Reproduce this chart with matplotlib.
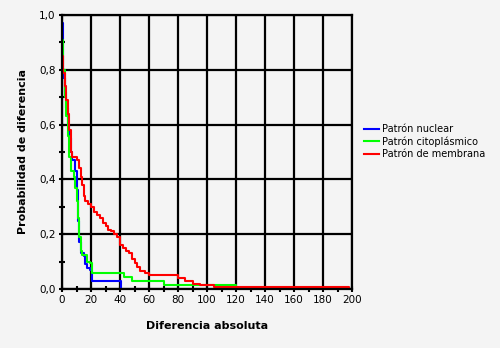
import numpy as np
import matplotlib.pyplot as plt
from matplotlib.ticker import MultipleLocator, FuncFormatter

# step curves (x = diferencia absoluta, y = probabilidad)
nuclear_x = [0, 1, 2, 3, 4, 5, 6, 7, 9, 10, 11, 12, 13, 15, 16, 17, 19, 20.5, 41]
nuclear_y = [0.97, 0.77, 0.72, 0.66, 0.60, 0.55, 0.50, 0.47, 0.43, 0.36, 0.25, 0.17, 0.13, 0.12, 0.09, 0.077, 0.07, 0.03, 0.0]

cito_x = [0, 1, 2, 3, 4, 5, 6, 8, 9, 10, 11, 12, 13, 14, 17, 19, 21, 43, 48, 70, 120]
cito_y = [0.91, 0.80, 0.70, 0.63, 0.56, 0.48, 0.43, 0.41, 0.37, 0.32, 0.26, 0.19, 0.14, 0.125, 0.10, 0.095, 0.06, 0.045, 0.03, 0.015, 0.0]

memb_x = [0, 1, 2, 3, 4, 5, 6, 7, 10, 12, 13, 14, 15, 16, 18, 20, 22, 24, 26, 28, 30, 32, 34, 36, 38,
          40, 42, 44, 46, 48, 50, 52, 54, 57, 60, 80, 85, 90, 95, 105, 198]
memb_y = [0.85, 0.79, 0.74, 0.69, 0.64, 0.58, 0.50, 0.48, 0.47, 0.44, 0.41, 0.38, 0.34, 0.32, 0.31, 0.30, 0.28, 0.27,
          0.26, 0.24, 0.23, 0.215, 0.21, 0.20, 0.19, 0.16, 0.15, 0.14, 0.13, 0.11, 0.095, 0.08, 0.065, 0.057,
          0.05, 0.04, 0.03, 0.02, 0.015, 0.007, 0.0]

labels = ['Patrón nuclear', 'Patrón citoplásmico', 'Patrón de membrana']

bg = '#f4f4f4'
fig = plt.figure(figsize=(5, 3.48), dpi=100, facecolor=bg)
ax = fig.add_axes([0.124, 0.1695, 0.58, 0.7875], facecolor=bg)

ax.plot(nuclear_x, nuclear_y, drawstyle='steps-post', color='#0000ff', lw=1.5, label=labels[0])
ax.plot(cito_x, cito_y, drawstyle='steps-post', color='#00ff00', lw=1.5, label=labels[1])
ax.plot(memb_x, memb_y, drawstyle='steps-post', color='#ff0000', lw=1.5, label=labels[2])

ax.set_xlim(0, 200)
ax.set_ylim(0, 1.0)
ax.xaxis.set_major_locator(MultipleLocator(20))
ax.xaxis.set_minor_locator(MultipleLocator(10))
ax.yaxis.set_major_locator(MultipleLocator(0.2))
ax.yaxis.set_minor_locator(MultipleLocator(0.1))
ax.yaxis.set_major_formatter(FuncFormatter(lambda v, p: f'{v:.1f}'.replace('.', ',')))
ax.tick_params(which='both', direction='inout', length=5, width=1.5, color='black',
               labelsize=7.5, pad=2)
ax.grid(which='major', color='black', lw=1.6)
for s in ax.spines.values():
    s.set_color('black')
    s.set_linewidth(1.6)

ax.set_xlabel('Diferencia absoluta', fontsize=8, fontweight='bold', labelpad=11)
ax.set_ylabel('Probabilidad de diferencia', fontsize=8, fontweight='bold', labelpad=8)

ax.legend(loc='upper left', bbox_to_anchor=(0.72, 0.655), bbox_transform=fig.transFigure,
          frameon=False, fontsize=7, handlelength=1.6, handletextpad=0.3,
          labelspacing=0.25, borderaxespad=0)

plt.savefig('out.png', dpi=100, facecolor=bg)
